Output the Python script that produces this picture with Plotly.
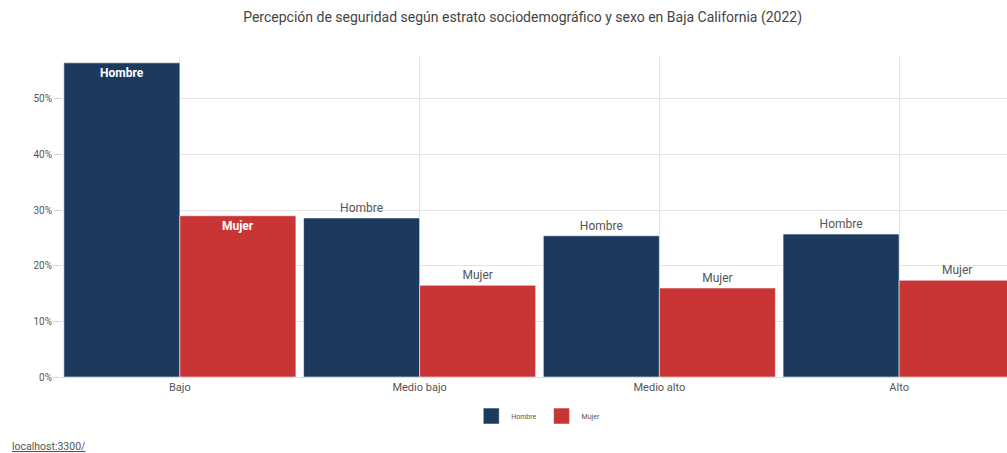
import plotly.graph_objects as go

categories = ["Bajo", "Medio bajo", "Medio alto", "Alto"]
hombre = [56.5, 28.6, 25.4, 25.7]
mujer = [29.0, 16.5, 16.0, 17.4]
series_names = ["Hombre", "Mujer"]
y_ticks = [0, 10, 20, 30, 40, 50]
y_tick_labels = [f"{v}%" for v in y_ticks]

FONT = "Roboto, DejaVu Sans Condensed, sans-serif"
colors = {"Hombre": "#1c3a5e", "Mujer": "#c93434"}
positions = ["inside", "outside", "outside", "outside"]

fig = go.Figure()
for name, vals in zip(series_names, [hombre, mujer]):
    fig.add_trace(go.Bar(
        x=categories, y=vals, name=name, showlegend=False,
        marker=dict(color=colors[name], line=dict(color="rgba(255,255,255,0.55)", width=1)),
        text=[name] * len(vals), textposition=positions,
        insidetextanchor="end",
        insidetextfont=dict(family=FONT, size=12, color="#ffffff", weight="bold"),
        outsidetextfont=dict(family=FONT, size=12, color="#555555"),
        textangle=0, cliponaxis=False, hoverinfo="skip",
    ))
    fig.add_trace(go.Scatter(
        x=[None], y=[None], mode="markers", name=name,
        marker=dict(symbol="square", size=20, color=colors[name],
                    line=dict(color="rgba(255,255,255,0.55)", width=1)),
        showlegend=True,
    ))

fig.update_layout(
    width=1007, height=453,
    margin=dict(l=60, r=0, t=57, b=76),
    paper_bgcolor="white", plot_bgcolor="white",
    barmode="group", bargap=0.032, bargroupgap=0,
    font=dict(family=FONT, color="#555555"),
    title=dict(text="Percepción de seguridad según estrato sociodemográfico y sexo en Baja California (2022)",
               x=0.519, xref="container", xanchor="center", y=0.962, yref="container", yanchor="middle",
               font=dict(family=FONT, size=14, color="#444444")),
    xaxis=dict(range=[-0.5, 3.45], showgrid=True, gridcolor="#e4e4e4", gridwidth=1,
               showline=True, linecolor="#dddddd", ticks="", zeroline=False,
               tickfont=dict(family=FONT, size=11, color="#555555")),
    yaxis=dict(range=[0, 57.55], tickvals=y_ticks, ticktext=y_tick_labels,
               showgrid=True, gridcolor="#e4e4e4", gridwidth=1, zeroline=False,
               ticks="outside", ticklen=5, tickcolor="#cccccc",
               tickfont=dict(family=FONT, size=10, color="#555555")),
    legend=dict(orientation="h", x=0.505, xanchor="center", y=-0.122, yanchor="middle",
                font=dict(family=FONT, size=7, color="#555555"), itemsizing="trace",
                itemwidth=30, tracegroupgap=0),
    annotations=[dict(text="<u>localhost:3300/</u>", xref="paper", yref="paper",
                      x=-0.053, y=-0.216, xanchor="left", yanchor="middle", showarrow=False,
                      font=dict(family=FONT, size=10.5, color="#555555"))],
)

fig.write_html("out.html")
